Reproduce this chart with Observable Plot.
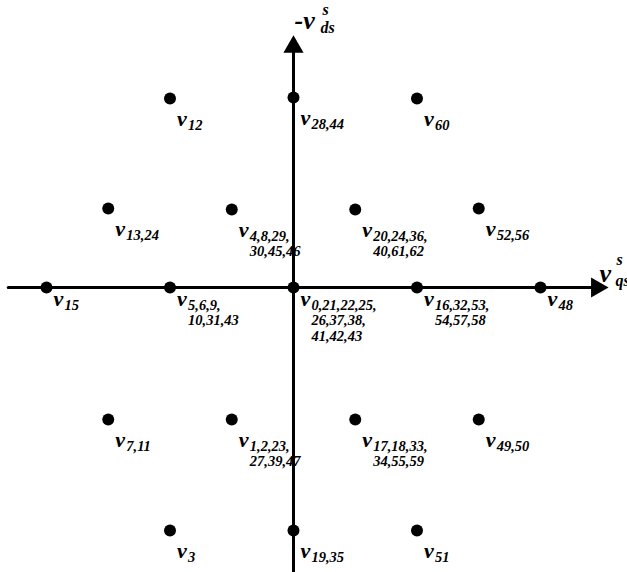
<!DOCTYPE html>
<html>
<head>
<meta charset="utf-8">
<script src="https://cdn.jsdelivr.net/npm/d3@7"></script>
<script src="https://cdn.jsdelivr.net/npm/@observablehq/plot@0.6"></script>
<style>
  html, body { margin: 0; padding: 0; background: #fff; }
  #chart svg { display: block; }
</style>
</head>
<body>
<div id="chart"></div>
<script>
// Space-vector positions (x in half-steps, y)
const vx = [-2, 0, 2, -3, -1, 1, 3, -4, -2, 0, 2, 4, -3, -1, 1, 3, -2, 0, 2];
const vy = [1.89, 1.9, 1.89, 0.79, 0.78, 0.78, 0.79, 0, 0, 0, 0, 0, -1.32, -1.32, -1.32, -1.32, -2.43, -2.43, -2.43];
const subs = [
  "12", "28,44", "60",
  "13,24", "4,8,29,\n30,45,46", "20,24,36,\n40,61,62", "52,56",
  "15", "5,6,9,\n10,31,43", "0,21,22,25,\n26,37,38,\n41,42,43", "16,32,53,\n54,57,58", "48",
  "7,11", "1,2,23,\n27,39,47", "17,18,33,\n34,55,59", "49,50",
  "3", "19,35", "51"
];
// axis extents
const hAxisX = [-4.62, 4.95];
const vAxisY = [-2.86, 2.35];
const hTipX = 5.10;
const vTipY = 2.52;

const pts = vx.map((x, i) => ({x, y: vy[i], sub: subs[i]}));
const onAxis = pts.filter(d => d.y === 0);
const offAxis = pts.filter(d => d.y !== 0);
const font = "Liberation Serif";
const bi = {fontStyle: "italic", fontWeight: "bold", textAnchor: "start"};

function labels(data, dy) {
  return [
    Plot.text(data, {x: "x", y: "y", text: () => "v", dx: 7, dy: dy, fontSize: 22, ...bi, lineAnchor: "middle"}),
    Plot.text(data, {x: "x", y: "y", text: "sub", dx: 18, dy: dy, fontSize: 14.5, ...bi, lineAnchor: "top", lineHeight: 1.08})
  ];
}

const plot = Plot.plot({
  width: 627,
  height: 572,
  margin: 0,
  x: {domain: [-4.745, 5.409], axis: null},
  y: {domain: [-2.85, 2.87], axis: null},
  style: {fontFamily: font, background: "#fff"},
  marks: [
    Plot.line([{x: hAxisX[0], y: 0}, {x: hAxisX[1], y: 0}], {x: "x", y: "y", stroke: "#000", strokeWidth: 3}),
    Plot.line([{x: 0, y: vAxisY[0]}, {x: 0, y: vAxisY[1]}], {x: "x", y: "y", stroke: "#000", strokeWidth: 3}),
    Plot.dot([{x: hTipX, y: 0}], {x: "x", y: "y", symbol: "triangle", r: 7.5, fill: "#000", rotate: 90, dx: -11.5}),
    Plot.dot([{x: 0, y: vTipY}], {x: "x", y: "y", symbol: "triangle", r: 7.5, fill: "#000", dy: 11.5}),
    Plot.dot(pts, {x: "x", y: "y", r: 6, fill: "#000"}),
    ...labels(offAxis, 20),
    ...labels(onAxis, 11),
    // axis titles
    Plot.text([{x: 0, y: vTipY}], {x: "x", y: "y", text: () => "-v", dx: 1, dy: -15, fontSize: 26, ...bi, lineAnchor: "middle"}),
    Plot.text([{x: 0, y: vTipY}], {x: "x", y: "y", text: () => "s", dx: 29, dy: -26, fontSize: 16, ...bi, lineAnchor: "middle"}),
    Plot.text([{x: 0, y: vTipY}], {x: "x", y: "y", text: () => "ds", dx: 27, dy: -8, fontSize: 16, ...bi, lineAnchor: "middle"}),
    Plot.text([{x: hTipX, y: 0}], {x: "x", y: "y", text: () => "v", dx: -9, dy: -14, fontSize: 26, ...bi, lineAnchor: "middle"}),
    Plot.text([{x: hTipX, y: 0}], {x: "x", y: "y", text: () => "s", dx: 8, dy: -28, fontSize: 16, ...bi, lineAnchor: "middle"}),
    Plot.text([{x: hTipX, y: 0}], {x: "x", y: "y", text: () => "qs", dx: 7, dy: -7, fontSize: 16, ...bi, lineAnchor: "middle"})
  ]
});
document.getElementById("chart").append(plot);
</script>
</body>
</html>
